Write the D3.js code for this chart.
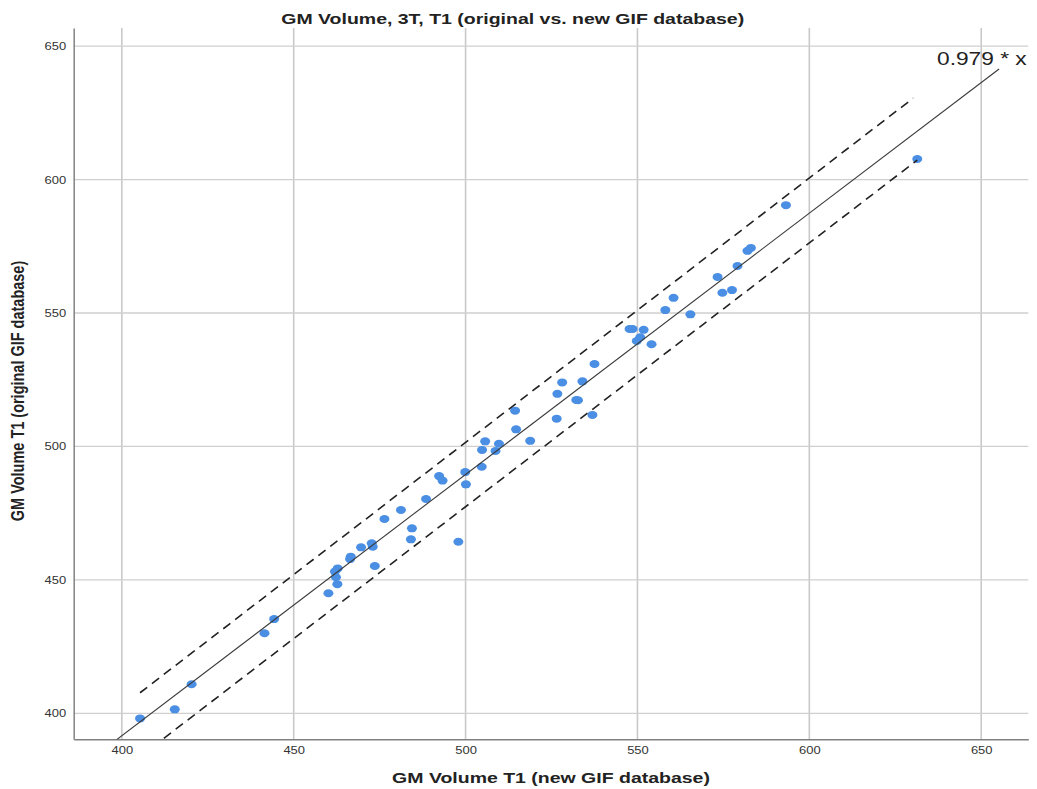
<!DOCTYPE html>
<html>
<head>
<meta charset="utf-8">
<script src="https://cdn.jsdelivr.net/npm/d3@7"></script>
<style>
  html, body { margin: 0; padding: 0; background: #ffffff; }
  svg { display: block; }
  text { font-family: "Liberation Sans", Arial, sans-serif; }
</style>
</head>
<body>
<svg id="chart" width="1037" height="789"></svg>
<script>
// GM volume per subject: new GIF database (x) vs original GIF database (y)
const newGif = [
  405.3, 415.4, 420.3, 441.5, 444.3, 460.1, 462.7, 462.3, 462.0, 462.8,
  466.4, 466.6, 469.6, 472.7, 473.0, 473.6, 476.4, 481.2, 484.1, 484.4,
  488.5, 492.3, 493.3, 497.9, 499.9, 500.1, 504.7, 504.8, 505.7, 508.7,
  509.7, 514.4, 514.7, 518.8, 526.5, 526.7, 528.1, 532.2, 532.7, 534.0,
  536.9, 537.5, 547.7, 548.6, 551.8, 550.8, 549.8, 554.1, 558.1, 560.5,
  565.4, 573.3, 574.7, 577.5, 579.1, 582.0, 583.0, 593.2, 631.4
];
const originalGif = [
  398.1, 401.5, 410.9, 430.0, 435.3, 445.0, 448.4, 451.0, 453.1, 454.3,
  457.8, 458.7, 462.2, 463.7, 462.4, 455.2, 472.8, 476.2, 465.2, 469.3,
  480.3, 488.9, 487.2, 464.3, 490.4, 485.8, 492.4, 498.7, 501.9, 498.3,
  501.0, 513.4, 506.4, 502.1, 510.4, 519.7, 524.0, 517.4, 517.3, 524.4,
  511.8, 530.9, 544.0, 544.0, 543.7, 540.9, 539.5, 538.3, 551.1, 555.7,
  549.5, 563.5, 557.6, 558.6, 567.6, 573.3, 574.4, 590.4, 607.7
];

// Fit through the origin and its interval lines
const fitSlope = 0.979;
const fitLabel = "0.979 * x";
const fitRangeX = [386, 655.2];
const upperBandX = [405.3, 630.2];
const upperBandY = [407.7, 630.5];
const lowerBandX = [405.3, 631.4];
const lowerBandY = [383.8, 607.3];

// Axis ticks and texts
const xTicks = [400, 450, 500, 550, 600, 650];
const yTicks = [400, 450, 500, 550, 600, 650];
const titleText = "GM Volume, 3T, T1 (original vs. new GIF database)";
const xTitle = "GM Volume T1 (new GIF database)";
const yTitle = "GM Volume T1 (original GIF database)";

const stretch = 1.3; // horizontal text stretch of the layout
const plotLeft = 73.7, plotRight = 1028.3, plotTop = 28, plotBottom = 739.3;

const svg = d3.select("#chart");

const x = d3.scaleLinear().domain([386.0, 663.7]).range([plotLeft, plotRight]);
const y = d3.scaleLinear().domain([390.26, 656.8]).range([plotBottom, plotTop]);

svg.append("defs").append("clipPath").attr("id", "plot-clip")
  .append("rect")
  .attr("x", plotLeft).attr("y", plotTop)
  .attr("width", plotRight - plotLeft).attr("height", plotBottom - plotTop);

// Grid lines
const grid = svg.append("g").attr("class", "grid");
grid.selectAll("line.gx").data(xTicks).join("line")
  .attr("class", "gx")
  .attr("x1", d => x(d)).attr("x2", d => x(d))
  .attr("y1", plotTop).attr("y2", plotBottom)
  .attr("stroke", "#c9c9c9").attr("stroke-width", 1.6);
grid.selectAll("line.gy").data(yTicks).join("line")
  .attr("class", "gy")
  .attr("y1", d => y(d)).attr("y2", d => y(d))
  .attr("x1", plotLeft).attr("x2", plotRight)
  .attr("stroke", "#cfcfcf").attr("stroke-width", 1.3);

// Axes
const xAxis = svg.append("g")
  .attr("transform", `translate(0,${plotBottom})`)
  .call(d3.axisBottom(x).tickValues(xTicks).tickSize(0).tickPadding(0));
xAxis.select(".domain").attr("stroke", "#808080").attr("stroke-width", 1.6);
xAxis.selectAll(".tick text")
  .attr("y", 0).attr("dy", null)
  .attr("transform", `translate(0,15) scale(${stretch},1)`)
  .attr("font-size", 10).attr("fill", "#333")
  .attr("font-family", "Liberation Sans, Arial, sans-serif");

const yAxis = svg.append("g")
  .attr("transform", `translate(${plotLeft},0)`)
  .call(d3.axisLeft(y).tickValues(yTicks).tickSize(0).tickPadding(0));
yAxis.select(".domain").attr("stroke", "#8a8a8a").attr("stroke-width", 1.6);
yAxis.selectAll(".tick text")
  .attr("x", 0).attr("dy", "0.35em")
  .attr("transform", `translate(-7.5,0) scale(${stretch},1)`)
  .attr("font-size", 10).attr("fill", "#333")
  .attr("font-family", "Liberation Sans, Arial, sans-serif");

// Data points
svg.append("g").attr("class", "points")
  .selectAll("ellipse").data(newGif).join("ellipse")
  .attr("cx", d => x(d))
  .attr("cy", (d, i) => y(originalGif[i]))
  .attr("rx", 5).attr("ry", 4)
  .attr("fill", "#4a8fe3");

// Fit line and interval lines
const lines = svg.append("g").attr("clip-path", "url(#plot-clip)");
const line = d3.line().x(d => x(d[0])).y(d => y(d[1]));
lines.append("path")
  .datum(fitRangeX.map(v => [v, fitSlope * v]))
  .attr("d", line)
  .attr("fill", "none").attr("stroke", "#3a3a3a").attr("stroke-width", 1.1);
lines.append("path")
  .datum(upperBandX.map((v, i) => [v, upperBandY[i]]))
  .attr("d", line)
  .attr("fill", "none").attr("stroke", "#222").attr("stroke-width", 1.6)
  .attr("stroke-dasharray", "9,6");
lines.append("path")
  .datum(lowerBandX.map((v, i) => [v, lowerBandY[i]]))
  .attr("d", line)
  .attr("fill", "none").attr("stroke", "#222").attr("stroke-width", 1.6)
  .attr("stroke-dasharray", "9,6");

// Fit label
svg.append("text")
  .attr("transform", `translate(937,65) scale(${stretch},1)`)
  .attr("font-size", 17.5).attr("fill", "#222")
  .text(fitLabel);

// Titles
svg.append("text")
  .attr("transform", `translate(512.7,24) scale(${stretch},1)`)
  .attr("text-anchor", "middle")
  .attr("font-size", 15).attr("font-weight", "bold").attr("fill", "#222")
  .text(titleText);

svg.append("text")
  .attr("transform", `translate(${(plotLeft + plotRight) / 2},783) scale(${stretch},1)`)
  .attr("text-anchor", "middle")
  .attr("font-size", 15).attr("font-weight", "bold").attr("fill", "#222")
  .text(xTitle);

svg.append("text")
  .attr("transform", `translate(23.5,391) scale(${stretch},1) rotate(-90)`)
  .attr("text-anchor", "middle")
  .attr("font-size", 14.5).attr("font-weight", "bold").attr("fill", "#222")
  .text(yTitle);
</script>
</body>
</html>
